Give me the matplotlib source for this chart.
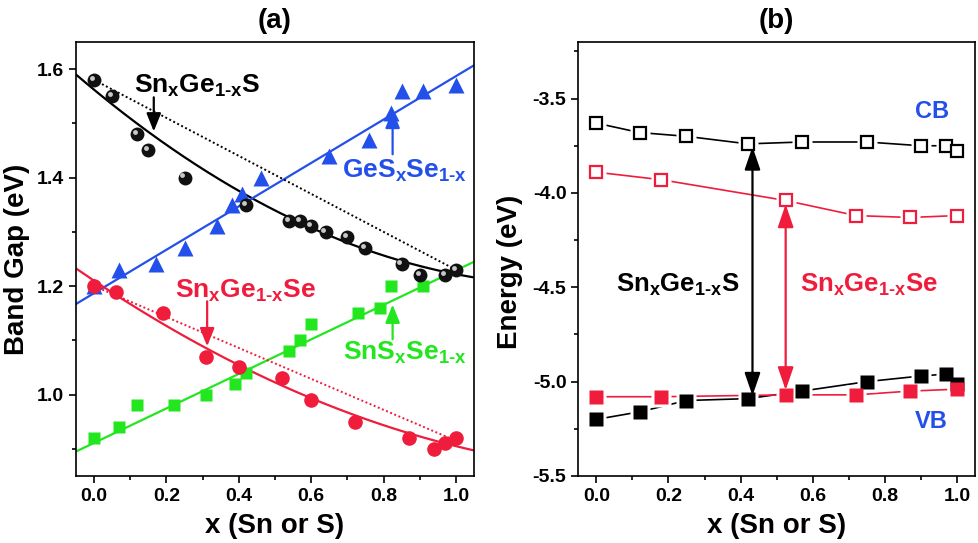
import numpy as np
import matplotlib
matplotlib.use('Agg')
import matplotlib.pyplot as plt
from matplotlib.ticker import MultipleLocator
import matplotlib.transforms as mtransforms

plt.rcParams['font.family'] = ['Liberation Sans', 'DejaVu Sans']
plt.rcParams['font.weight'] = 'bold'
plt.rcParams['axes.unicode_minus'] = False
plt.rcParams['mathtext.fontset'] = 'custom'
plt.rcParams['mathtext.rm'] = 'Liberation Sans:bold'
plt.rcParams['mathtext.it'] = 'Liberation Sans:bold'
plt.rcParams['mathtext.bf'] = 'Liberation Sans:bold'
plt.rcParams['mathtext.sf'] = 'Liberation Sans:bold'

# ---------------- data: panel (a) ----------------
x_sngs = [0.0, 0.05, 0.12, 0.15, 0.25, 0.42, 0.54, 0.57, 0.60, 0.64, 0.70, 0.75, 0.85, 0.90, 0.97, 1.0]
eg_sngs = [1.58, 1.55, 1.48, 1.45, 1.40, 1.35, 1.32, 1.32, 1.31, 1.30, 1.29, 1.27, 1.24, 1.22, 1.22, 1.23]

x_gesse = [0.0, 0.07, 0.17, 0.25, 0.34, 0.38, 0.41, 0.46, 0.65, 0.76, 0.82, 0.85, 0.91, 1.0]
eg_gesse = [1.20, 1.23, 1.24, 1.27, 1.31, 1.35, 1.37, 1.40, 1.44, 1.47, 1.52, 1.56, 1.56, 1.57]

x_sngse = [0.0, 0.06, 0.19, 0.31, 0.40, 0.52, 0.60, 0.72, 0.87, 0.94, 0.97, 1.0]
eg_sngse = [1.20, 1.19, 1.15, 1.07, 1.05, 1.03, 0.99, 0.95, 0.92, 0.90, 0.91, 0.92]

x_snsse = [0.0, 0.07, 0.12, 0.22, 0.31, 0.39, 0.42, 0.54, 0.57, 0.60, 0.73, 0.79, 0.82, 0.91]
eg_snsse = [0.92, 0.94, 0.98, 0.98, 1.00, 1.02, 1.04, 1.08, 1.10, 1.13, 1.15, 1.16, 1.20, 1.20]

# bowing fits: (Eg at x=0, Eg at x=1, bowing b)
fit_sngs = (1.562, 1.222, 0.21)
fit_gesse = (1.187, 1.587, 0.0)
fit_sngse = (1.21, 0.905, 0.14)
fit_snsse = (0.911, 1.229, 0.0)
# Vegard (dotted) lines: endpoints
veg_sngs = (1.58, 1.23)
veg_sngse = (1.20, 0.915)

# ---------------- data: panel (b) ----------------
x_b_sngs = [0.0, 0.12, 0.25, 0.42, 0.57, 0.75, 0.90, 0.97, 1.0]
cb_sngs = [-3.63, -3.68, -3.70, -3.74, -3.73, -3.73, -3.75, -3.75, -3.78]
vb_sngs = [-5.20, -5.16, -5.10, -5.09, -5.05, -5.00, -4.97, -4.96, -5.01]
x_b_sngse = [0.0, 0.18, 0.525, 0.72, 0.87, 1.0]
cb_sngse = [-3.89, -3.93, -4.04, -4.12, -4.13, -4.12]
vb_sngse = [-5.08, -5.08, -5.07, -5.07, -5.05, -5.04]

BLUE = '#2350ea'
RED = '#f01c3c'
GREEN = '#22e61e'
BLACK = '#000000'

fig = plt.figure(figsize=(9.79, 5.43), dpi=100)
axa = fig.add_axes([0.0776, 0.1234, 0.4066, 0.7993])
axb = fig.add_axes([0.5907, 0.1234, 0.4052, 0.7993])


def style(ax):
    for s in ax.spines.values():
        s.set_linewidth(1.2)
    ax.tick_params(which='both', direction='out', top=False, right=False,
                   labelsize=14, width=1.2)
    ax.tick_params(which='major', length=5)
    ax.tick_params(which='minor', length=3)
    for lab in ax.get_xticklabels() + ax.get_yticklabels():
        lab.set_fontweight('bold')


def bow(p, x):
    a, c, b = p
    return a * (1 - x) + c * x - b * x * (1 - x)


xs = np.linspace(-0.05, 1.05, 200)

# ---- panel (a)
axa.plot(xs, bow(fit_sngs, xs), color=BLACK, lw=1.6, zorder=2)
axa.plot(xs, bow(fit_gesse, xs), color=BLUE, lw=1.6, zorder=2)
axa.plot(xs, bow(fit_sngse, xs), color=RED, lw=1.6, zorder=2)
axa.plot(xs, bow(fit_snsse, xs), color=GREEN, lw=1.6, zorder=2)
axa.plot([0, 1], veg_sngs, color=BLACK, lw=1.4, ls=(0, (1, 1.3)), zorder=2)
axa.plot([0, 0.98], [veg_sngse[0], veg_sngse[0] + 0.98 * (veg_sngse[1] - veg_sngse[0])],
         color=RED, lw=1.4, ls=(0, (1, 1.3)), zorder=2)

axa.plot(x_snsse, eg_snsse, 's', color=GREEN, ms=9, mec='none', zorder=3)
axa.plot(x_gesse, eg_gesse, '^', color=BLUE, ms=11, mec='none', zorder=3)
axa.plot(x_sngse, eg_sngse, 'o', color=RED, ms=10.5, mec='none', zorder=3)
axa.plot(x_sngs, eg_sngs, 'o', color='#111111', ms=10, mec='none', zorder=4)
hl = mtransforms.offset_copy(axa.transData, fig=fig, x=-1.6, y=1.6, units='points')
axa.plot(x_sngs, eg_sngs, 'o', color='#c8c8c8', ms=3.5, mec='none', zorder=5, transform=hl)

axa.set_xlim(-0.05, 1.05)
axa.set_ylim(0.85, 1.65)
axa.xaxis.set_major_locator(MultipleLocator(0.2))
axa.xaxis.set_minor_locator(MultipleLocator(0.1))
axa.set_yticks([1.0, 1.2, 1.4, 1.6])
axa.yaxis.set_minor_locator(MultipleLocator(0.1))
style(axa)
axa.set_xlabel('x (Sn or S)', fontsize=20, fontweight='bold')
axa.set_ylabel('Band Gap (eV)', fontsize=20, fontweight='bold')
axa.yaxis.set_label_coords(-0.116, 0.5)
axa.xaxis.set_label_coords(0.5, -0.1145)
axa.xaxis.label.set_va('center')
axa.set_title('(a)', fontsize=20, fontweight='bold', pad=10)

lab_kw = dict(fontsize=19, ha='left', va='baseline', zorder=6)
axa.text(0.109, 1.557, r'Sn$_{\mathrm{x}}$Ge$_{\mathrm{1\text{-}x}}$S', color=BLACK, **lab_kw)
axa.text(0.685, 1.40, r'GeS$_{\mathrm{x}}$Se$_{\mathrm{1\text{-}x}}$', color=BLUE, **lab_kw)
axa.text(0.225, 1.178, r'Sn$_{\mathrm{x}}$Ge$_{\mathrm{1\text{-}x}}$Se', color=RED, **lab_kw)
axa.text(0.689, 1.065, r'SnS$_{\mathrm{x}}$Se$_{\mathrm{1\text{-}x}}$', color=GREEN, **lab_kw)

arr_a = dict(arrowstyle='-|>,head_length=0.55,head_width=0.22', lw=1.6, mutation_scale=20,
             shrinkA=0, shrinkB=0)
axa.annotate('', xy=(0.165, 1.485), xytext=(0.165, 1.548), arrowprops=dict(color=BLACK, **arr_a), zorder=6)
axa.annotate('', xy=(0.825, 1.525), xytext=(0.825, 1.443), arrowprops=dict(color=BLUE, **arr_a), zorder=6)
axa.annotate('', xy=(0.3125, 1.089), xytext=(0.3125, 1.172), arrowprops=dict(color=RED, **arr_a), zorder=6)
axa.annotate('', xy=(0.825, 1.166), xytext=(0.825, 1.102), arrowprops=dict(color=GREEN, **arr_a), zorder=6)

# ---- panel (b)
for xv, yv, col, filled in [(x_b_sngs, cb_sngs, BLACK, False), (x_b_sngse, cb_sngse, RED, False),
                            (x_b_sngs, vb_sngs, BLACK, True), (x_b_sngse, vb_sngse, RED, True)]:
    axb.plot(xv, yv, '-', color=col, lw=1.2, zorder=2)
    axb.plot(xv, yv, 's', color='white', ms=14, mec='none', zorder=3)
    if filled:
        axb.plot(xv, yv, 's', color=col, ms=9.5, mec='none', zorder=4)
    else:
        axb.plot(xv, yv, 's', mfc='white', mec=col, mew=1.6, ms=8.5, zorder=4)

axb.set_xlim(-0.05, 1.05)
axb.set_ylim(-5.5, -3.2)
axb.xaxis.set_major_locator(MultipleLocator(0.2))
axb.xaxis.set_minor_locator(MultipleLocator(0.1))
axb.set_yticks([-5.5, -5.0, -4.5, -4.0, -3.5])
axb.yaxis.set_minor_locator(MultipleLocator(0.25))
style(axb)
axb.set_xlabel('x (Sn or S)', fontsize=20, fontweight='bold')
axb.set_ylabel('Energy (eV)', fontsize=20, fontweight='bold')
axb.yaxis.set_label_coords(-0.139, 0.47)
axb.xaxis.set_label_coords(0.5, -0.1145)
axb.xaxis.label.set_va('center')
axb.set_title('(b)', fontsize=20, fontweight='bold', pad=10)

arr_b = dict(arrowstyle='<|-|>,head_length=0.7,head_width=0.24', lw=1.6, mutation_scale=20,
             shrinkA=0, shrinkB=0)
axb.annotate('', xy=(0.433, -3.755), xytext=(0.433, -5.075), arrowprops=dict(color=BLACK, **arr_b), zorder=5)
axb.annotate('', xy=(0.525, -4.06), xytext=(0.525, -5.045), arrowprops=dict(color=RED, **arr_b), zorder=5)

lab_b = dict(fontsize=18.5, ha='left', va='baseline', zorder=6)
axb.text(0.055, -4.526, r'Sn$_{\mathrm{x}}$Ge$_{\mathrm{1\text{-}x}}$S', color=BLACK, **lab_b)
axb.text(0.565, -4.526, r'Sn$_{\mathrm{x}}$Ge$_{\mathrm{1\text{-}x}}$Se', color=RED, **lab_b)
axb.text(0.93, -3.57, 'CB', color=BLUE, fontsize=17, fontweight='bold', ha='center', va='center')
axb.text(0.93, -5.21, 'VB', color=BLUE, fontsize=17, fontweight='bold', ha='center', va='center')

fig.savefig('out.png', dpi=100)
